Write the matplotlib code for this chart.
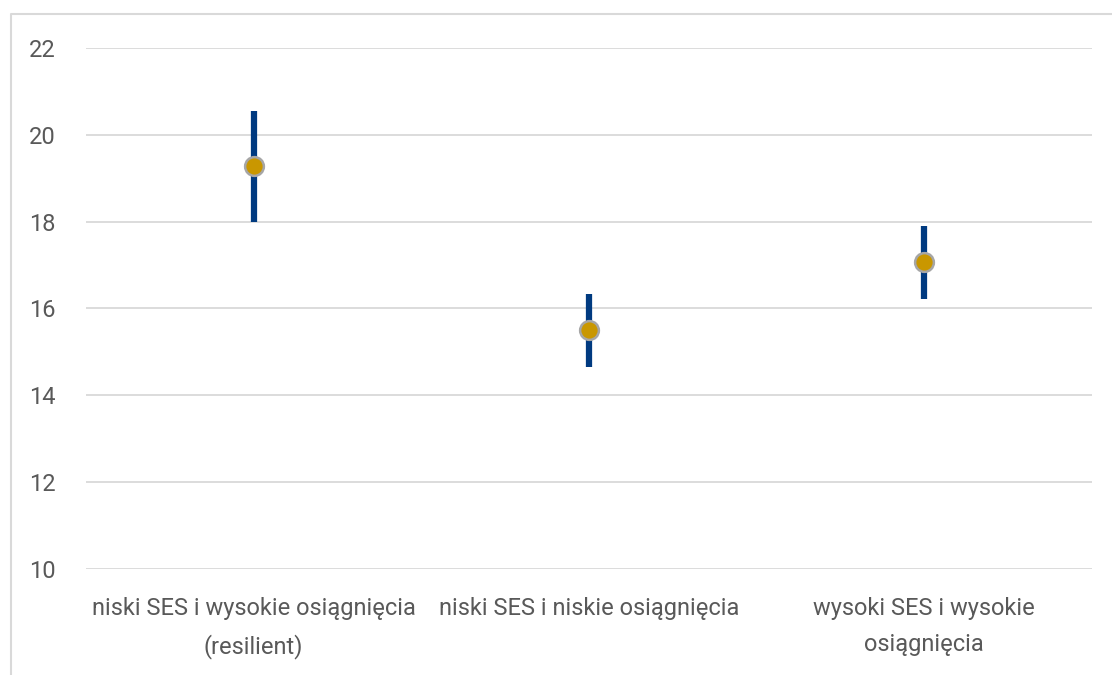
import matplotlib.pyplot as plt
from matplotlib.lines import Line2D

categories = ["niski SES i wysokie osiągnięcia\n(resilient)",
              "niski SES i niskie osiągnięcia",
              "wysoki SES i wysokie\nosiągnięcia"]
means = [19.28, 15.5, 17.07]
lower = [18.0, 14.65, 16.22]
upper = [20.55, 16.33, 17.9]

plt.rcParams['font.family'] = ['Roboto', 'DejaVu Sans']

fig = plt.figure(figsize=(11.12, 6.75), dpi=100)
ax = fig.add_axes([0.0773, 0.157, 0.9047, 0.772])

x = list(range(len(categories)))
ax.vlines(x, lower, upper, color='#003a80', linewidth=4.5, zorder=3)
ax.plot(x, means, linestyle='none', marker='o', markersize=13.5,
        markerfacecolor='#c99700', markeredgecolor='#a6a6a6',
        markeredgewidth=1.8, zorder=4)

ax.set_xlim(-0.5, 2.5)
ax.set_ylim(10, 22)
ax.set_yticks(range(10, 23, 2))
ax.yaxis.grid(True, color='#d9d9d9', linewidth=1.3)
ax.set_axisbelow(True)
for s in ax.spines.values():
    s.set_visible(False)
ax.tick_params(axis='both', length=0, labelsize=17, colors='#595959')
ax.tick_params(axis='x', pad=20)
ax.tick_params(axis='y', pad=22)
ax.set_xticks(x)
ax.set_xticklabels(categories, linespacing=1.75)

# outer frame: only left and top edges are visible in the picture
fig.lines.append(Line2D([11 / 1112, 11 / 1112, 1.0], [0.0, 1 - 14 / 675, 1 - 14 / 675],
                        transform=fig.transFigure, color='#d9d9d9', linewidth=1.5))

fig.savefig("out.png", dpi=100)
